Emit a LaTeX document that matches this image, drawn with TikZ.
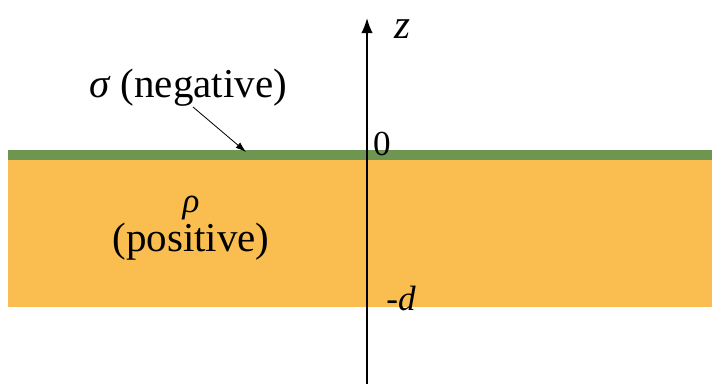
\documentclass[tikz,border=0pt]{standalone}
\usepackage{fontspec}
\setmainfont{Liberation Serif}
\usepackage{tikz}
\usetikzlibrary{arrows.meta}
\definecolor{slab}{RGB}{250,190,80}
\definecolor{sheet}{RGB}{110,150,80}
\tikzset{small/.style={font=\fontsize{30}{36}\selectfont}}

\begin{document}
\begin{tikzpicture}[x=0.03cm,y=0.03cm,font=\fontsize{35}{42}\selectfont]
\useasboundingbox (0,0) rectangle (712,384);
\fill[slab] (8,77) rectangle (712,224);
\fill[sheet] (8,224) rectangle (712,234);
\coordinate (bot) at (367,0);
\coordinate (top) at (367,366);
\draw[-{Latex[length=13pt,width=10pt]},line width=1.6pt] (bot)--(top);
\node (zlab) at (402,355) {\textit{z}};
\node[small] (zero) at (382,240) {0};
\node[small] (mind) at (401,86) {-\textit{d}};
\node (sig) at (188,296) {\textit{σ} (negative)};
\coordinate (hit) at (246,232);
\draw[-{Latex[length=9pt,width=6pt]},line width=0.7pt] (193,277)--(hit);
\node[small,inner sep=0pt] (rho) at (191,176) {\textit{ρ}};
\node[inner sep=0pt] (pos) at (191,142) {(positive)};
\end{tikzpicture}
\end{document}
